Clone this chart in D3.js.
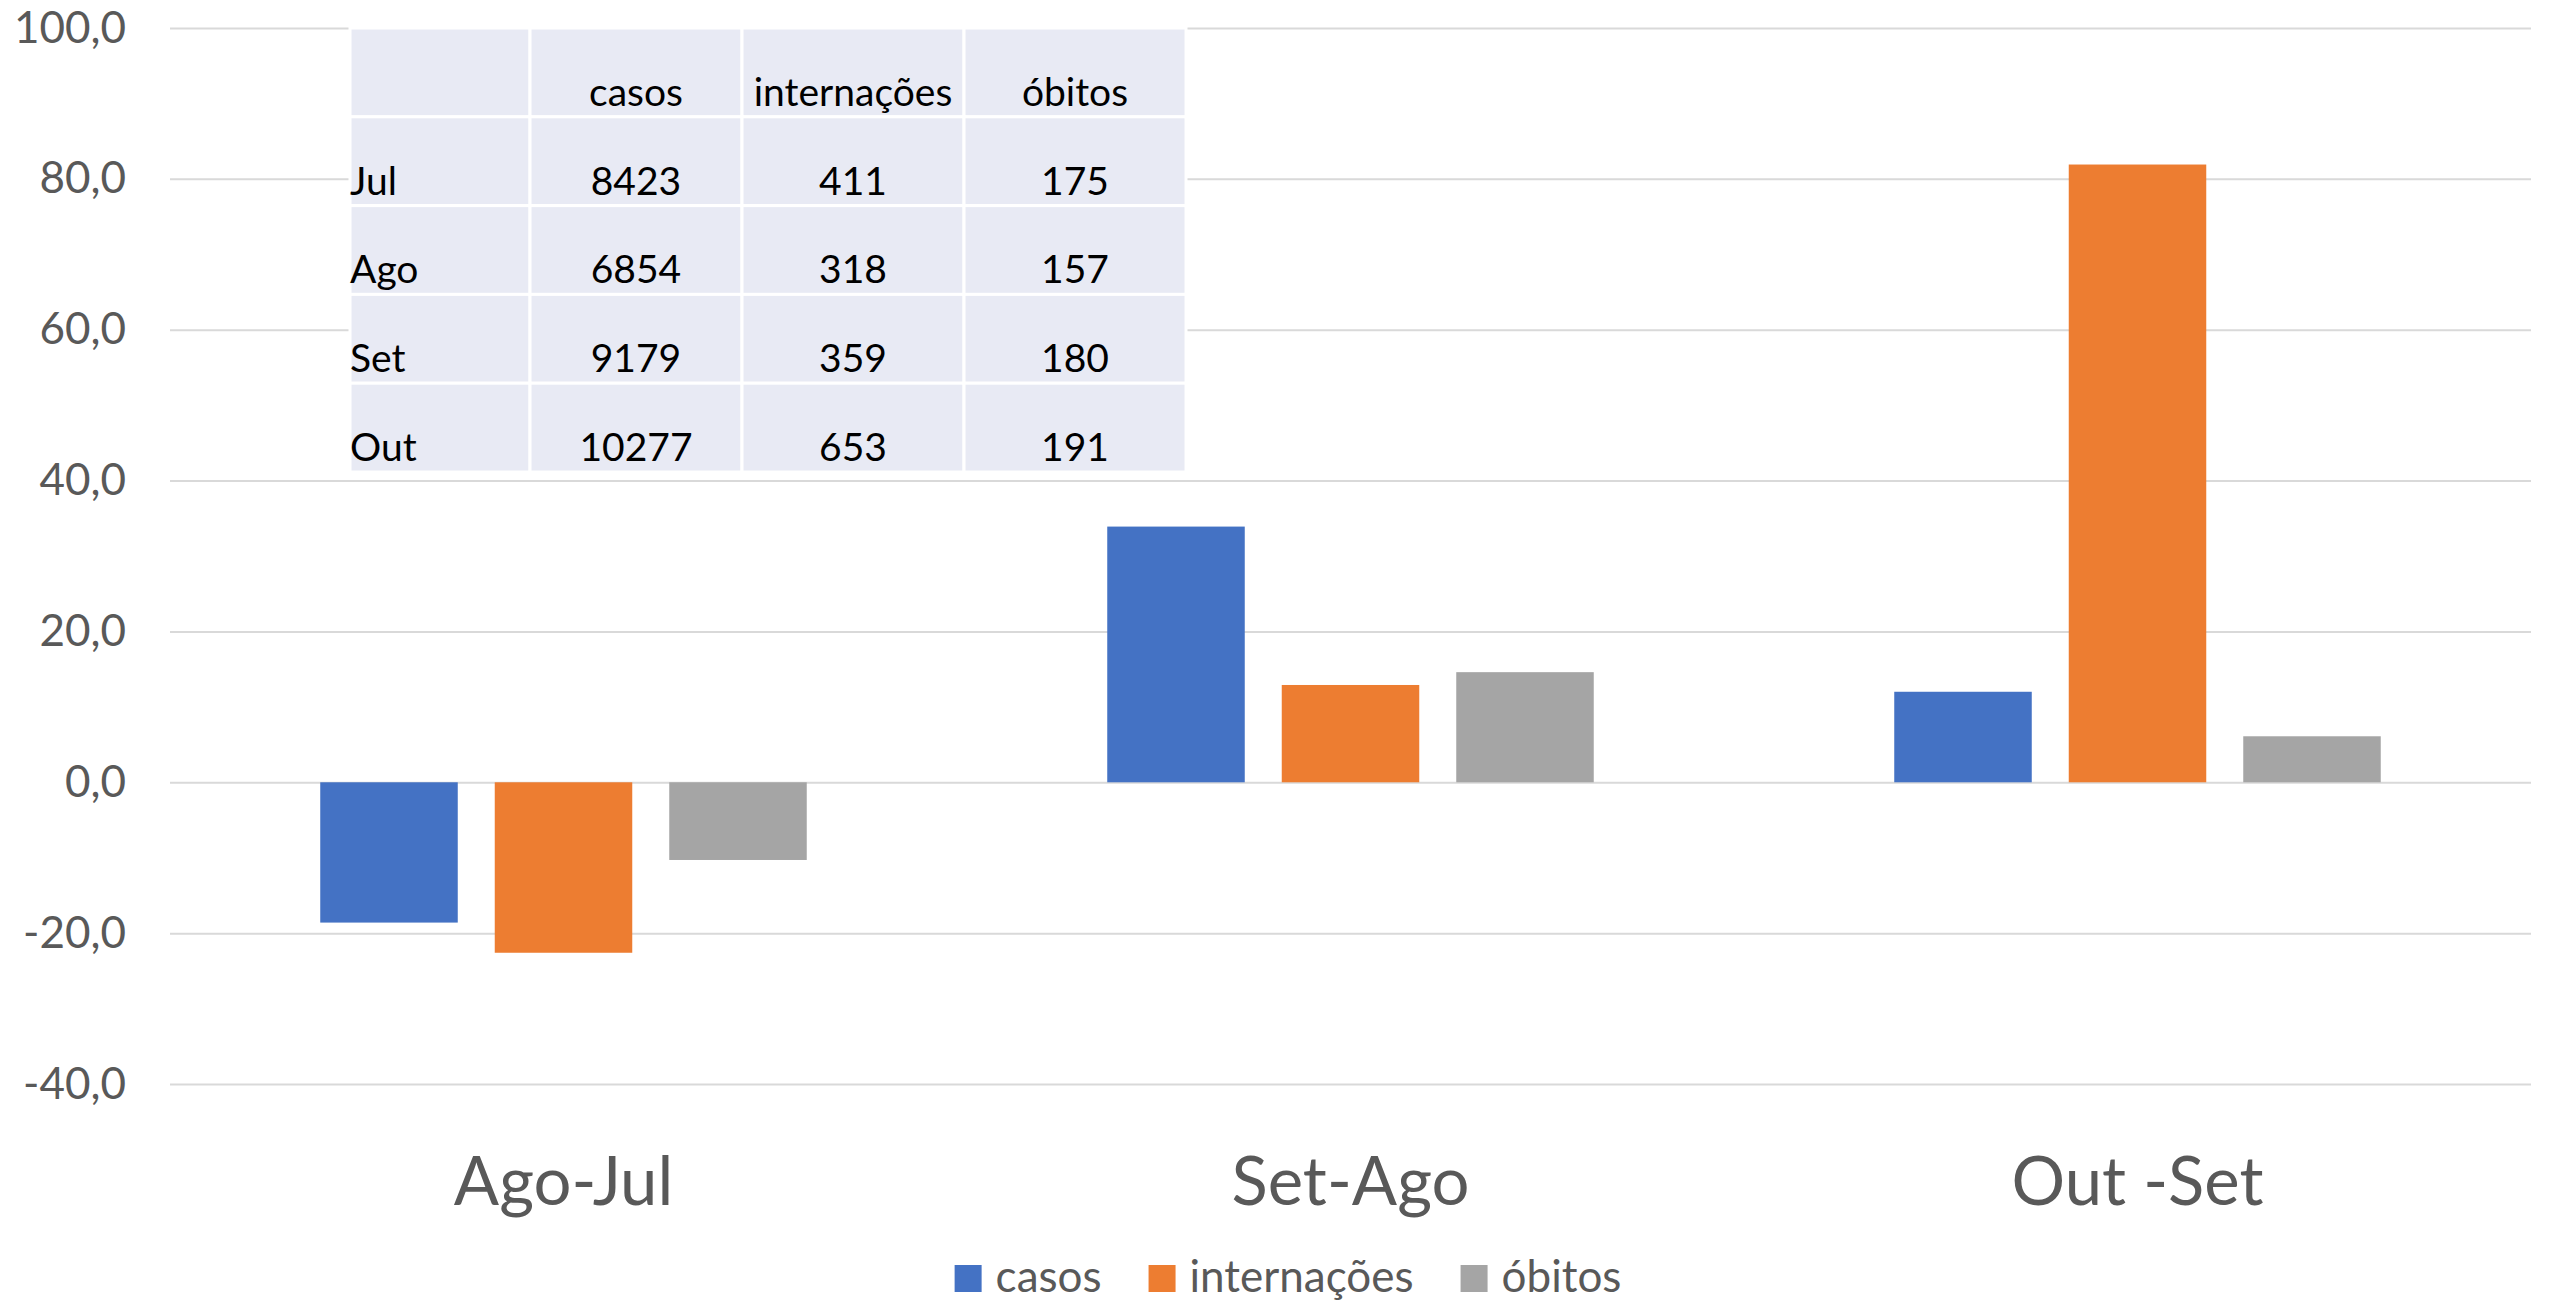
<!DOCTYPE html>
<html>
<head>
<meta charset="utf-8">
<script src="https://cdn.jsdelivr.net/npm/d3@7"></script>
<style>
  html, body { margin: 0; padding: 0; background: #fff; }
  svg { display: block; font-family: Lato, "Open Sans", sans-serif; }
</style>
</head>
<body>
<svg id="chart" width="2552" height="1301"></svg>
<script>
// ---- data ----
const categories = ["Ago-Jul", "Set-Ago", "Out -Set"];
const seriesNames = ["casos", "internações", "óbitos"];
const casos = [-18.6, 33.9, 12.0];
const internacoes = [-22.6, 12.9, 81.9];
const obitos = [-10.3, 14.6, 6.1];
const yTicks = [-40, -20, 0, 20, 40, 60, 80, 100];

const tableHeader = ["", "casos", "internações", "óbitos"];
const tableRows = ["Jul", "Ago", "Set", "Out"];
const tableCasos = [8423, 6854, 9179, 10277];
const tableInternacoes = [411, 318, 359, 653];
const tableObitos = [175, 157, 180, 191];

const colors = ["#4472C4", "#ED7D31", "#A5A5A5"];

// ---- layout ----
const svg = d3.select("#chart");
const plot = { left: 170, right: 2531, top: 28, bottom: 1084 };

const y = d3.scaleLinear().domain([-40, 100]).range([plot.bottom, plot.top]);
const x0 = d3.scaleBand().domain(categories).range([plot.left, plot.right]).padding(0);
const x1 = d3.scaleBand().domain(seriesNames).range([0, x0.bandwidth()])
  .paddingInner(0.212).paddingOuter(0.861);
const color = d3.scaleOrdinal().domain(seriesNames).range(colors);

const seriesData = [casos, internacoes, obitos];
const rows = categories.map((c, i) => ({
  cat: c,
  values: seriesNames.map((s, j) => ({ s, v: seriesData[j][i] }))
}));

// y axis with gridlines
const yAxis = d3.axisLeft(y)
  .tickValues(yTicks)
  .tickSize(-(plot.right - plot.left))
  .tickPadding(44)
  .tickFormat(d => d.toFixed(1).replace(".", ","));
const gy = svg.append("g").attr("transform", `translate(${plot.left},0)`).call(yAxis);
gy.select(".domain").remove();
gy.selectAll(".tick line").attr("stroke", "#D9D9D9").attr("stroke-width", 2);
gy.selectAll(".tick text").attr("fill", "#595959").attr("font-size", 44)
  .attr("font-family", "Lato, sans-serif");

// bars
const groups = svg.append("g").selectAll("g").data(rows).join("g")
  .attr("transform", d => `translate(${x0(d.cat)},0)`);
groups.selectAll("rect").data(d => d.values).join("rect")
  .attr("x", d => x1(d.s))
  .attr("width", x1.bandwidth())
  .attr("y", d => y(Math.max(0, d.v)))
  .attr("height", d => Math.abs(y(d.v) - y(0)))
  .attr("fill", d => color(d.s));

// x axis labels
const xAxis = d3.axisBottom(x0).tickSize(0);
const gx = svg.append("g").call(xAxis);
gx.select(".domain").remove();
gx.selectAll(".tick text").attr("y", 1205).attr("dy", null)
  .attr("fill", "#595959").attr("font-size", 67).attr("font-family", "Lato, sans-serif");

// data table
const colEdges = [350, 530, 742, 964, 1186];
const tableTop = 28, rowH = 88.8;
const tbl = svg.append("g").attr("font-size", 39).attr("fill", "#000");
const allRows = [tableHeader].concat(tableRows.map((r, i) =>
  [r, tableCasos[i], tableInternacoes[i], tableObitos[i]]));
allRows.forEach((row, ri) => {
  row.forEach((cell, ci) => {
    const x = colEdges[ci], w = colEdges[ci + 1] - colEdges[ci];
    const yy = tableTop + ri * rowH;
    tbl.append("rect").attr("x", x).attr("y", yy).attr("width", w).attr("height", rowH)
      .attr("fill", "#E8EAF4").attr("stroke", "#fff").attr("stroke-width", 3);
    if (cell !== "") {
      tbl.append("text")
        .attr("x", ci === 0 ? x : x + w / 2)
        .attr("y", yy + rowH - 11)
        .attr("text-anchor", ci === 0 ? "start" : "middle")
        .text(cell);
    }
  });
});

// legend
const legend = svg.append("g").attr("font-size", 44).attr("fill", "#595959");
let lx = 0;
seriesNames.forEach((s, i) => {
  const g = legend.append("g").attr("transform", `translate(${lx},0)`);
  g.append("rect").attr("x", 0).attr("y", 1265).attr("width", 27).attr("height", 27).attr("fill", color(s));
  const t = g.append("text").attr("x", 41).attr("y", 1292).text(s);
  const tw = t.node().getComputedTextLength();
  lx += 41 + tw + 47;
});
const legendW = lx - 47;
legend.attr("transform", `translate(${1288 - legendW / 2},0)`);
</script>
</body>
</html>
